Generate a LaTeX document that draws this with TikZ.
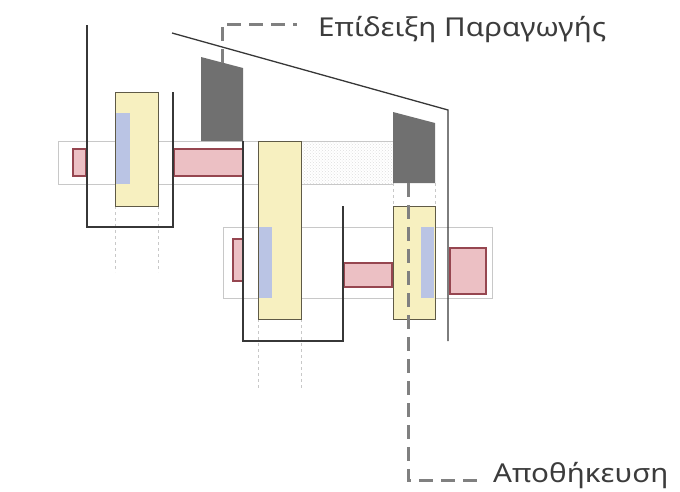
\documentclass[tikz,border=0pt]{standalone}
\usepackage{fontspec}
\setmainfont{Noto Sans}
\newfontfamily\labelfont{Noto Sans}[FakeStretch=1.14]
\usetikzlibrary{patterns}
\definecolor{wallblack}{RGB}{55,55,55}
\definecolor{gearedge}{RGB}{95,90,70}
\definecolor{gearfill}{RGB}{247,240,192}
\definecolor{hubblue}{RGB}{186,196,228}
\definecolor{shaftedge}{RGB}{150,70,80}
\definecolor{shaftfill}{RGB}{236,192,196}
\definecolor{housegray}{RGB}{200,200,200}
\definecolor{blockgray}{RGB}{112,112,112}
\definecolor{leadgray}{RGB}{128,128,128}
\definecolor{labelgray}{RGB}{60,60,60}
\begin{document}
\begin{tikzpicture}[x=1pt, y=-1pt,
wall/.style={draw=wallblack, line width=1.3pt},
gear/.style={draw=gearedge, fill=gearfill, line width=0.9pt},
hub/.style={fill=hubblue},
shaft/.style={draw=shaftedge, fill=shaftfill, line width=1.5pt},
housing/.style={draw=housegray, line width=0.6pt},
guide/.style={draw=housegray, dashed, line width=0.5pt},
block/.style={fill=blockgray},
leader/.style={draw=leadgray, line width=3pt, dash pattern=on 14pt off 8pt},
lbl/.style={text=labelgray, font=\labelfont\fontsize{26}{30}\selectfont, inner sep=0pt}
]
\useasboundingbox (0,0) rectangle (680,491);

\fill[pattern=crosshatch dots, pattern color=housegray!60] (301,141) rectangle (393,183);
\draw[housing] (58,141) rectangle (393,184);
\draw[housing] (223,227) rectangle (492,298);

\draw[guide] (115,206) -- (115,272);
\draw[guide] (158,206) -- (158,272);
\draw[guide] (258,319) -- (258,388);
\draw[guide] (301,319) -- (301,388);
\draw[guide] (393,183) -- (393,206);
\draw[guide] (435,183) -- (435,206);

\draw[gear] (115,92) rectangle (158,206);
\fill[hub] (116,113) rectangle (130,184);
\draw[gear] (258,141) rectangle (301,319);
\fill[hub] (259,227) rectangle (272,298);
\draw[gear] (393,206) rectangle (435,319);
\fill[hub] (421,227) rectangle (434,298);

\draw[shaft] (73,149) rectangle (86,176);
\draw[shaft] (174,149) rectangle (243,176);
\draw[shaft] (233,239) rectangle (243,281);
\draw[shaft] (344,263) rectangle (392,287);
\draw[shaft] (450,248) rectangle (486,294);

\draw[wall] (87,25) -- (87,227) -- (173,227) -- (173,92);
\draw[wall] (243,141) -- (243,341) -- (343,341) -- (343,206);
\draw[wall] (172,33) -- (448,110) -- (448,341);

\fill[block] (201,57) -- (243,68) -- (243,141) -- (201,141) -- cycle;
\fill[block] (393,112) -- (435,123) -- (435,183) -- (393,183) -- cycle;

\node[lbl, anchor=base west] (demo) at (318,36) {Επίδειξη Παραγωγής};
\node[lbl, anchor=base west] (store) at (493,482) {Αποθήκευση};
\coordinate (demotip) at (222,63);
\coordinate (storetip) at (408,183);
\draw[leader] (demotip) |- ([shift={(-21,-12)}]demo.base west);
\draw[leader] (storetip) |- ([shift={(-10,-2)}]store.base west);
\end{tikzpicture}
\end{document}
